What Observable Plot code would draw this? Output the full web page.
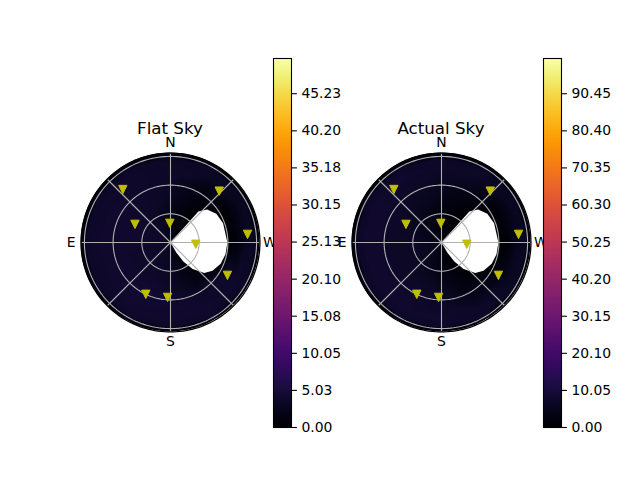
<!DOCTYPE html>
<html><head><meta charset="utf-8">
<script src="https://cdn.jsdelivr.net/npm/d3@7"></script>
<script src="https://cdn.jsdelivr.net/npm/@observablehq/plot@0.6"></script>
<style>
body{margin:0;background:white;font-family:"DejaVu Sans",sans-serif;}
#wrap{position:relative;width:640px;height:480px;overflow:hidden;background:white;}
#wrap > *{position:absolute;}
.title{font-size:16.7px;line-height:16.7px;text-align:center;width:200px;color:black;font-family:"DejaVu Sans",sans-serif;}
</style></head><body><div id="wrap"></div>
<script>
// ---- data ----
const azimuths = [0, 30, 60, 90, 120, 150, 180, 210, 240, 270, 300, 330];
const zeniths = [8, 23, 38, 53, 68, 80, 89, 94];
// sky brightness, rows = zenith, cols = azimuth
const flatSky = [
  [2.2, 3.0, 3.5, 3.5, 3.5, 3.2, 2.8, 1.5, 0.5, 0.5, 0.5, 1.2],
  [2.2, 3.3, 3.8, 3.8, 3.8, 3.5, 3.0, 1.2, 0.5, 0.3, 0.3, 0.8],
  [2.4, 3.5, 4.0, 4.0, 3.8, 3.8, 3.2, 1.6, 0.5, 0.3, 0.3, 0.8],
  [3.0, 3.8, 4.0, 4.0, 4.0, 4.2, 3.8, 2.3, 0.8, 0.3, 0.5, 1.5],
  [3.5, 3.8, 4.0, 4.0, 4.0, 4.2, 4.2, 3.8, 4.0, 0.8, 0.8, 1.8],
  [3.5, 3.8, 3.8, 3.8, 3.8, 4.0, 4.0, 4.0, 3.8, 2.8, 2.5, 3.2],
  [3.2, 3.5, 3.5, 3.5, 3.5, 3.8, 3.8, 3.8, 3.5, 3.2, 3.0, 3.2],
  [1.0, 1.0, 1.0, 1.0, 1.0, 1.0, 1.0, 1.0, 1.0, 1.0, 1.0, 1.0]
];
const actualSky = [
  [2.0, 3.0, 4.0, 5.0, 5.0, 4.0, 3.0, 1.0, 0.5, 0.5, 0.5, 1.0],
  [2.0, 4.0, 5.0, 6.0, 6.0, 5.0, 3.0, 1.0, 0.5, 0.5, 0.5, 1.0],
  [3.0, 5.0, 6.0, 7.0, 7.0, 6.0, 4.0, 2.0, 0.5, 0.5, 0.5, 1.0],
  [5.0, 6.0, 7.0, 7.0, 7.0, 7.0, 6.0, 3.0, 1.0, 0.5, 1.0, 3.0],
  [6.0, 7.0, 8.0, 8.0, 8.0, 8.0, 7.0, 5.0, 3.0, 1.0, 2.0, 5.0],
  [7.0, 8.0, 8.0, 8.0, 8.0, 8.0, 8.0, 7.0, 6.0, 5.0, 5.0, 7.0],
  [6.5, 7.0, 7.0, 7.0, 7.0, 7.5, 7.5, 7.0, 6.5, 6.0, 6.0, 6.5],
  [2.0, 2.0, 2.0, 2.0, 2.0, 2.0, 2.0, 2.0, 2.0, 2.0, 2.0, 2.0]
];
const flatMax = 50;
const actualMax = 100;
const flatTicks = [0, 5.03, 10.05, 15.08, 20.10, 25.13, 30.15, 35.18, 40.20, 45.23];
const actualTicks = [0, 10.05, 20.10, 30.15, 40.20, 50.25, 60.30, 70.35, 80.40, 90.45];
// markers (azimuth, zenith angle)
const starAz = [42, 63, 2, 316.5, 276, 266, 240, 154.5, 177];
const starZen = [74.5, 41.7, 20, 74, 81, 26.5, 68.7, 60, 57.5];
// masked (no data) region outline
const maskAz = [270, 318, 312, 302, 290, 270, 258, 247, 236, 228, 220, 214, 210, 210];
const maskZen = [0, 43.5, 51.5, 56.5, 58.5, 59.5, 58.8, 57, 53, 47.5, 36, 24, 12, 4];
// polar grid
const gridRings = [30, 60, 90];
const gridSpokes = [0, 45, 90, 135, 180, 225, 270, 315];
const compassLabels = ["N", "E", "S", "W"];
const compassAz = [0, 90, 180, 270];
const RMAX = 93.5;
const LABEL_R = 104;

// ---- helpers ----
const rad = Math.PI / 180;
const px = d => -d.zen * Math.sin(d.az * rad);
const py = d => d.zen * Math.cos(d.az * rad);
const circlePts = r => d3.range(0, 361, 2).map(a => ({az: a, zen: r, ring: r}));

const triangleDown = {
  draw(ctx, size) {
    const h = Math.sqrt(size / Math.PI);
    ctx.moveTo(0, h);
    ctx.lineTo(-h, -h);
    ctx.lineTo(h, -h);
    ctx.closePath();
  }
};

const wrap = document.getElementById("wrap");

function polar(values, vmax, title, left, top, id) {
  const heat = [];
  values.forEach((row, i) => row.forEach((v, j) => heat.push({az: azimuths[j], zen: zeniths[i], v})));
  const stars = starAz.map((a, i) => ({az: a, zen: starZen[i]}));
  const mask = maskAz.map((a, i) => ({az: a, zen: maskZen[i]}));
  const rings = gridRings.flatMap(circlePts);
  const compass = compassLabels.map((t, i) => ({t, az: compassAz[i], zen: LABEL_R}));
  const svg = Plot.plot({
    width: 220, height: 220,
    marginTop: 0, marginRight: 0, marginBottom: 0, marginLeft: 0,
    x: {domain: [-115, 115], axis: null},
    y: {domain: [-115, 115], axis: null},
    color: {type: "linear", scheme: "inferno", domain: [0, vmax]},
    style: {fontFamily: "DejaVu Sans", background: "transparent", overflow: "visible"},
    marks: [
      Plot.raster(heat, {x: px, y: py, fill: "v", interpolate: "barycentric",
        x1: -RMAX - 1, x2: RMAX + 1, y1: RMAX + 1, y2: -RMAX - 1}),
      Plot.line(mask, {x: px, y: py, fill: "white", stroke: "none", curve: "linear-closed"}),
      Plot.line(rings, {x: px, y: py, z: "ring", stroke: "#b0b0b0", strokeWidth: 1.1}),
      Plot.link(gridSpokes, {x1: 0, y1: 0,
        x2: a => -RMAX * Math.sin(a * rad), y2: a => RMAX * Math.cos(a * rad),
        stroke: "#b0b0b0", strokeWidth: 1.1}),
      Plot.line(circlePts(RMAX), {x: px, y: py, stroke: "black", strokeWidth: 1.3}),
      Plot.dot(stars, {x: px, y: py, symbol: triangleDown, r: 4.2, fill: "#bfbf00", stroke: "#bfbf00", strokeWidth: 1}),
      Plot.text(compass, {x: px, y: py, text: "t", fontSize: 13.9, fill: "black"})
    ]
  });
  // clip the heat image to the disc (wrap it in a clipped group)
  const xs = svg.scale("x"), ys = svg.scale("y");
  const ns = "http://www.w3.org/2000/svg";
  const defs = document.createElementNS(ns, "defs");
  const cp = document.createElementNS(ns, "clipPath");
  cp.setAttribute("id", id);
  const c = document.createElementNS(ns, "circle");
  c.setAttribute("cx", xs.apply(0));
  c.setAttribute("cy", ys.apply(0));
  c.setAttribute("r", xs.apply(RMAX) - xs.apply(0));
  cp.appendChild(c); defs.appendChild(cp);
  svg.insertBefore(defs, svg.firstChild);
  const img = svg.querySelector("image");
  if (img) {
    const rg = img.closest("g") || img.parentNode;
    const holder = document.createElementNS(ns, "g");
    holder.setAttribute("clip-path", `url(#${id})`);
    rg.parentNode.insertBefore(holder, rg);
    holder.appendChild(rg);
  }
  svg.style.left = left + "px";
  svg.style.top = top + "px";
  wrap.appendChild(svg);
  const t = document.createElement("div");
  t.className = "title";
  t.textContent = title;
  t.style.left = (left + 10) + "px";
  t.style.top = "120px";
  wrap.appendChild(t);
}

function colorbar(vmax, ticks, left) {
  const svg = Plot.plot({
    width: 70, height: 385,
    marginTop: 8, marginBottom: 8, marginLeft: 0, marginRight: 52,
    x: {domain: [0, 1], axis: null},
    y: {domain: [0, vmax], label: null},
    color: {type: "linear", scheme: "inferno", domain: [0, vmax]},
    style: {fontFamily: "DejaVu Sans", background: "transparent", overflow: "visible"},
    marks: [
      Plot.raster({x1: 0, x2: 1, y1: 0, y2: vmax, fill: (x, y) => y}),
      Plot.frame({stroke: "black", strokeWidth: 1.1}),
      Plot.axisY(ticks, {anchor: "right", tickFormat: d => d.toFixed(2), tickSize: 4.9,
        tickPadding: 5, fontSize: 13.9, strokeWidth: 1.1, label: null})
    ]
  });
  svg.style.left = left + "px";
  svg.style.top = "50.3px";
  wrap.appendChild(svg);
}

polar(flatSky, flatMax, "Flat Sky", 60, 132, "clipFlat");
colorbar(flatMax, flatTicks, 272.7);
polar(actualSky, actualMax, "Actual Sky", 331, 132, "clipActual");
colorbar(actualMax, actualTicks, 542.7);
</script></body></html>
